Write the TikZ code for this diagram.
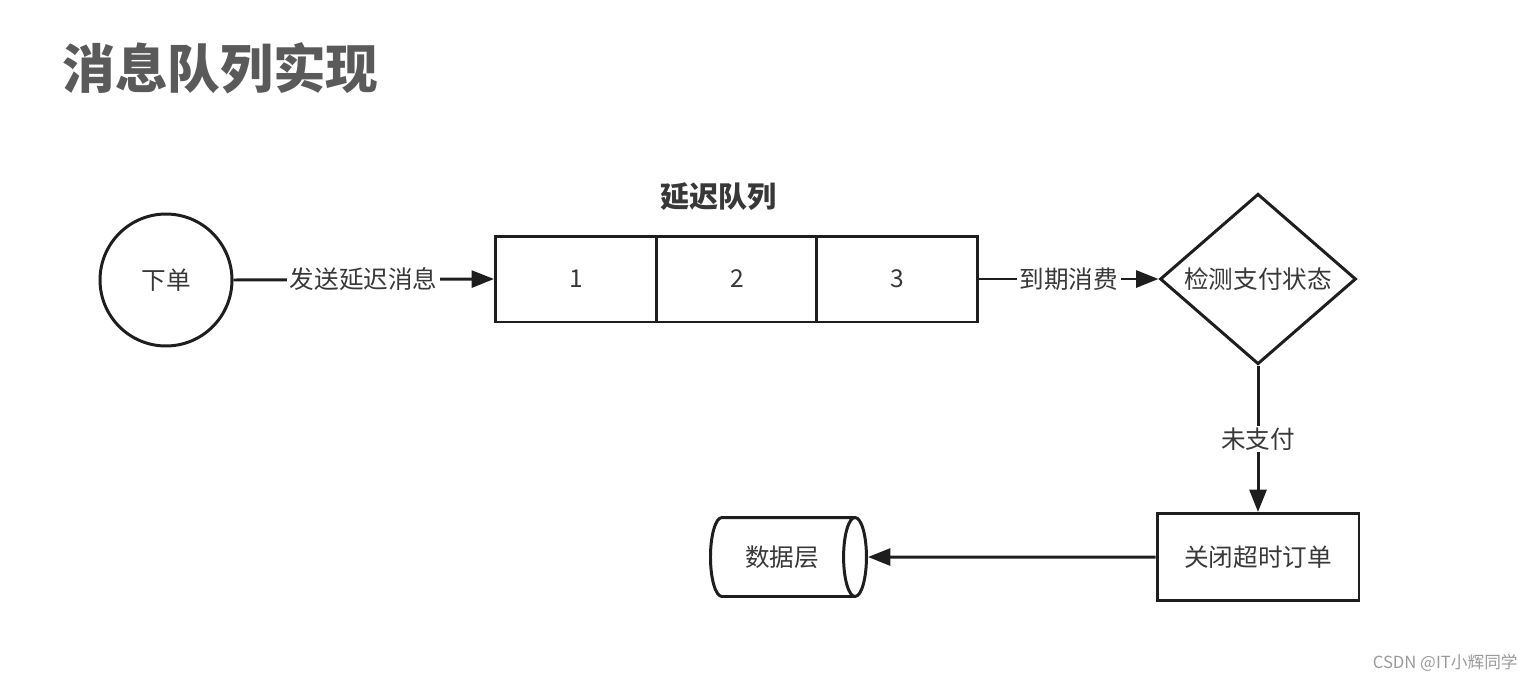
\documentclass[tikz,border=0pt]{standalone}
\usepackage{fontspec}
\setmainfont{Noto Sans CJK SC}
\usetikzlibrary{arrows.meta,positioning,shapes.geometric}
\definecolor{mqInk}{HTML}{1E1E1E}
\definecolor{mqText}{HTML}{383838}
\definecolor{mqTitle}{HTML}{5A5A5A}
\definecolor{mqMark}{HTML}{9A9A9A}
\tikzset{
  every picture/.style={font=\fontsize{14}{17}\selectfont, text=mqText},
  mq shape/.style={draw=mqInk, line width=1.7pt, fill=white, align=center, inner sep=0pt},
  mq cell/.style={mq shape, minimum width=3.22cm, minimum height=1.72cm},
  mq arrow/.style={-{Triangle[length=4.5mm,width=3.4mm]},
    draw=mqInk, line width=1.7pt, line cap=butt},
  mq label/.style={fill=white, inner xsep=1.5pt, inner ysep=1pt}
}

\begin{document}
\begin{tikzpicture}[x=0.02cm,y=-0.02cm]
  \useasboundingbox (0,0) rectangle (1534,683);
  \node[font=\fontsize{30}{36}\selectfont\bfseries, text=mqTitle, anchor=west, inner sep=0pt]
    (title) at (62,68) {消息队列实现};
  \node[mq shape, circle, minimum size=2.64cm] (order) at (166,280) {下单};
  \foreach \i/\x in {1/576,2/737,3/897}{
    \node[mq cell] (q\i) at (\x,279) {\i};
  }
  \node[font=\fontsize{16.5}{20}\selectfont\bfseries] (qname) at (718,197) {延迟队列};
  \node[mq shape, diamond, minimum width=3.92cm, minimum height=3.32cm] (check) at (1258,279) {检测支付状态};
  \node[mq shape, minimum width=4.04cm, minimum height=1.74cm] (close) at (1258,557) {关闭超时订单};
  \node[mq shape, cylinder, shape aspect=1, minimum width=1.58cm, minimum height=3.12cm]
    (db) at (782,557) {数据层};
  \draw[mq arrow] (order.east) -- node[mq label] {发送延迟消息} (q1.west);
  \draw[mq arrow] (q3.east) -- node[mq label] {到期消费} (check.west);
  \draw[mq arrow] (check.south) -- node[mq label] {未支付} (close.north);
  \draw[mq arrow] (close.west) -- (db.east);
  \node[font=\fontsize{9.5}{12}\selectfont, text=mqMark, anchor=east, inner sep=0pt]
    (mark) at (1518,663) {CSDN @IT小辉同学};
\end{tikzpicture}
\end{document}
